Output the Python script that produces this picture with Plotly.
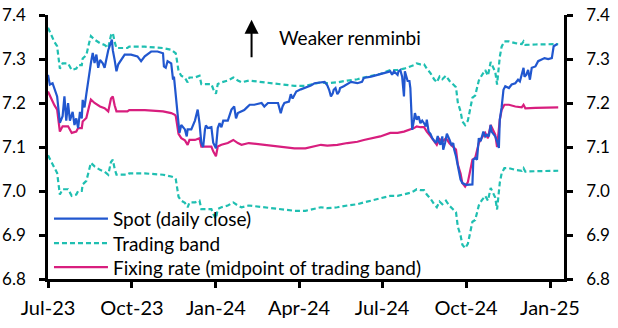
import pandas as pd
import plotly.graph_objects as go

# ---------------- data ----------------
start_date = "2023-07-01"   # day offsets below are counted from this date

spot_day = [0, 2, 5, 7, 10, 13, 16, 18, 20, 22, 24, 27, 29, 31, 33, 35, 37, 38, 40, 42,
            44, 47, 49, 51, 53, 55, 57, 60, 62, 66, 70, 71, 73, 75, 77, 80, 84, 91, 98, 102,
            106, 113, 120, 126, 127, 129, 131, 135, 137, 138, 140, 142, 144, 146, 150, 152, 153, 157, 161, 164,
            166, 168, 170, 172, 173, 175, 179, 181, 183, 184, 186, 188, 190, 192, 197, 201, 204, 206, 208, 212,
            215, 218, 221, 226, 234, 237, 241, 252, 254, 255, 257, 259, 264, 266, 268, 272, 277, 281, 288, 292,
            303, 306, 308, 310, 312, 313, 315, 317, 319, 320, 324, 332, 339, 344, 346, 354, 361, 368, 375, 377,
            379, 383, 384, 386, 388, 390, 391, 394, 396, 397, 399, 401, 402, 404, 406, 408, 410, 412, 414, 415,
            417, 419, 421, 425, 427, 428, 430, 432, 433, 435, 437, 440, 442, 444, 445, 447, 449, 452, 454, 458,
            465, 466, 468, 470, 472, 474, 476, 477, 479, 481, 483, 485, 486, 488, 490, 492, 494, 495, 497, 499,
            501, 505, 508, 512, 515, 517, 519, 521, 522, 524, 526, 528, 530, 534, 537, 541, 544, 548, 552, 554,
            558]
spot = [7.264, 7.242, 7.245, 7.234, 7.215, 7.155, 7.170, 7.215, 7.160, 7.200, 7.160, 7.180, 7.150, 7.165, 7.143, 7.180, 7.165, 7.207, 7.190, 7.220,
        7.253, 7.291, 7.314, 7.291, 7.310, 7.280, 7.298, 7.290, 7.280, 7.320, 7.344, 7.320, 7.298, 7.272, 7.288, 7.298, 7.310, 7.310, 7.306, 7.295,
        7.306, 7.317, 7.317, 7.313, 7.283, 7.280, 7.295, 7.290, 7.253, 7.260, 7.220, 7.185, 7.132, 7.150, 7.140, 7.124, 7.140, 7.140, 7.160, 7.185,
        7.154, 7.109, 7.100, 7.140, 7.149, 7.143, 7.145, 7.110, 7.101, 7.097, 7.143, 7.154, 7.145, 7.160, 7.160, 7.185, 7.192, 7.165, 7.177, 7.180,
        7.184, 7.190, 7.196, 7.196, 7.200, 7.192, 7.200, 7.200, 7.184, 7.177, 7.192, 7.200, 7.203, 7.220, 7.210, 7.226, 7.231, 7.234, 7.240, 7.245,
        7.248, 7.240, 7.230, 7.215, 7.222, 7.230, 7.234, 7.220, 7.226, 7.234, 7.238, 7.248, 7.245, 7.248, 7.257, 7.260, 7.264, 7.268, 7.272, 7.264,
        7.272, 7.264, 7.272, 7.275, 7.260, 7.215, 7.272, 7.250, 7.250, 7.234, 7.139, 7.162, 7.177, 7.162, 7.170, 7.154, 7.160, 7.154, 7.147, 7.162,
        7.135, 7.130, 7.120, 7.109, 7.125, 7.113, 7.105, 7.124, 7.094, 7.109, 7.130, 7.116, 7.105, 7.109, 7.094, 7.079, 7.056, 7.026, 7.018, 7.014,
        7.015, 7.071, 7.075, 7.071, 7.120, 7.113, 7.128, 7.135, 7.124, 7.128, 7.124, 7.150, 7.135, 7.128, 7.124, 7.113, 7.098, 7.162, 7.190, 7.230,
        7.238, 7.234, 7.242, 7.245, 7.253, 7.249, 7.268, 7.280, 7.260, 7.264, 7.275, 7.253, 7.280, 7.283, 7.295, 7.300, 7.302, 7.300, 7.302, 7.329,
        7.334]

fix_day = [0, 3, 7, 10, 13, 16, 22, 26, 31, 33, 37, 38, 42, 45, 47, 51, 57, 62, 66, 69,
           71, 73, 75, 87, 89, 106, 126, 135, 139, 140, 141, 143, 146, 150, 153, 155, 161, 166, 168, 179,
           181, 184, 186, 190, 197, 203, 208, 212, 220, 236, 248, 257, 270, 282, 292, 299, 306, 317, 328, 339,
           346, 354, 364, 375, 383, 390, 397, 401, 404, 408, 412, 415, 419, 423, 426, 429, 432, 436, 440, 444,
           447, 449, 452, 454, 457, 460, 463, 465, 468, 472, 475, 479, 482, 485, 490, 492, 495, 497, 500, 505,
           512, 519, 521, 523, 534, 545, 559]
fixing = [7.226, 7.212, 7.195, 7.185, 7.135, 7.147, 7.147, 7.132, 7.135, 7.143, 7.143, 7.158, 7.166, 7.192, 7.208, 7.200, 7.192, 7.188, 7.181, 7.210,
          7.215, 7.195, 7.181, 7.181, 7.184, 7.184, 7.181, 7.177, 7.173, 7.170, 7.157, 7.130, 7.120, 7.115, 7.105, 7.116, 7.116, 7.120, 7.101, 7.101,
          7.090, 7.079, 7.101, 7.105, 7.109, 7.116, 7.109, 7.105, 7.109, 7.105, 7.101, 7.099, 7.097, 7.097, 7.101, 7.105, 7.103, 7.105, 7.109, 7.112,
          7.116, 7.120, 7.124, 7.132, 7.132, 7.135, 7.139, 7.143, 7.147, 7.145, 7.145, 7.135, 7.125, 7.112, 7.105, 7.118, 7.112, 7.120, 7.108, 7.100,
          7.094, 7.060, 7.040, 7.018, 7.010, 7.020, 7.056, 7.071, 7.075, 7.109, 7.120, 7.132, 7.120, 7.150, 7.128, 7.100, 7.162, 7.184, 7.196, 7.196,
          7.192, 7.190, 7.196, 7.188, 7.189, 7.189, 7.190]
band_upper = [7.371, 7.356, 7.339, 7.329, 7.278, 7.290, 7.290, 7.275, 7.278, 7.286, 7.286, 7.301, 7.309, 7.336, 7.352, 7.344, 7.336, 7.332, 7.325, 7.354,
              7.359, 7.339, 7.325, 7.325, 7.328, 7.328, 7.325, 7.321, 7.316, 7.313, 7.300, 7.273, 7.262, 7.257, 7.247, 7.258, 7.258, 7.262, 7.243, 7.243,
              7.232, 7.221, 7.243, 7.247, 7.251, 7.258, 7.251, 7.247, 7.251, 7.247, 7.243, 7.241, 7.239, 7.239, 7.243, 7.247, 7.245, 7.247, 7.251, 7.254,
              7.258, 7.262, 7.266, 7.275, 7.275, 7.278, 7.282, 7.286, 7.290, 7.288, 7.288, 7.278, 7.268, 7.254, 7.247, 7.260, 7.254, 7.262, 7.250, 7.242,
              7.236, 7.201, 7.181, 7.158, 7.150, 7.160, 7.197, 7.212, 7.217, 7.251, 7.262, 7.275, 7.262, 7.293, 7.271, 7.242, 7.305, 7.328, 7.340, 7.340,
              7.336, 7.334, 7.340, 7.332, 7.333, 7.333, 7.334]
band_lower = [7.081, 7.068, 7.051, 7.041, 6.992, 7.004, 7.004, 6.989, 6.992, 7.000, 7.000, 7.015, 7.023, 7.048, 7.064, 7.056, 7.048, 7.044, 7.037, 7.066,
              7.071, 7.051, 7.037, 7.037, 7.040, 7.040, 7.037, 7.033, 7.030, 7.027, 7.014, 6.987, 6.978, 6.973, 6.963, 6.974, 6.974, 6.978, 6.959, 6.959,
              6.948, 6.937, 6.959, 6.963, 6.967, 6.974, 6.967, 6.963, 6.967, 6.963, 6.959, 6.957, 6.955, 6.955, 6.959, 6.963, 6.961, 6.963, 6.967, 6.970,
              6.974, 6.978, 6.982, 6.989, 6.989, 6.992, 6.996, 7.000, 7.004, 7.002, 7.002, 6.992, 6.983, 6.970, 6.963, 6.976, 6.970, 6.978, 6.966, 6.958,
              6.952, 6.919, 6.899, 6.878, 6.870, 6.880, 6.915, 6.930, 6.934, 6.967, 6.978, 6.989, 6.978, 7.007, 6.985, 6.958, 7.019, 7.040, 7.052, 7.052,
              7.048, 7.046, 7.052, 7.044, 7.045, 7.045, 7.046]

tick_dates = ["2023-07-01", "2023-10-01", "2024-01-01", "2024-04-01", "2024-07-01", "2024-10-01", "2025-01-01"]
tick_labels = ["Jul-23", "Oct-23", "Jan-24", "Apr-24", "Jul-24", "Oct-24", "Jan-25"]
y_ticks = [6.8, 6.9, 7.0, 7.1, 7.2, 7.3, 7.4]

legend_names = ["Spot (daily close)", "Trading band", "Fixing rate (midpoint of trading band)"]

# ---------------- styling ----------------
BLUE = "#2157CF"
TEAL = "#1FBFB1"
MAGENTA = "#D81E7E"
FONT = "Lato"
LW = 2.2

base = pd.Timestamp(start_date)
spot_x = base + pd.to_timedelta(spot_day, unit="D")
fix_x = base + pd.to_timedelta(fix_day, unit="D")

fig = go.Figure()
dash = "5px,3px"
fig.add_trace(go.Scatter(x=fix_x, y=band_upper, mode="lines",
                         line=dict(color=TEAL, width=LW, dash=dash), showlegend=False))
fig.add_trace(go.Scatter(x=fix_x, y=band_lower, mode="lines",
                         line=dict(color=TEAL, width=LW, dash=dash), showlegend=False))
fig.add_trace(go.Scatter(x=fix_x, y=fixing, mode="lines",
                         line=dict(color=MAGENTA, width=LW), showlegend=False))
fig.add_trace(go.Scatter(x=spot_x, y=spot, mode="lines",
                         line=dict(color=BLUE, width=LW), showlegend=False))
# invisible trace on the right axis so it is drawn
fig.add_trace(go.Scatter(x=fix_x[:1], y=fixing[:1], yaxis="y2", mode="lines",
                         line=dict(width=0), hoverinfo="skip", showlegend=False))

axis_common = dict(showline=True, linecolor="black", linewidth=2.5, ticks="outside",
                   ticklen=6, tickwidth=2.5, tickcolor="black", showgrid=False, zeroline=False,
                   automargin=False)

fig.update_layout(
    template="none",
    width=618, height=328,
    margin=dict(l=48, r=54, t=15, b=49, autoexpand=False),
    paper_bgcolor="white", plot_bgcolor="white",
    font=dict(family=FONT, color="black"),
    xaxis=dict(type="date", range=["2023-07-01", "2025-01-16 08:00"],
               tickvals=tick_dates, ticktext=tick_labels,
               tickfont=dict(size=20, family=FONT), ticklabelstandoff=3, **axis_common),
    yaxis=dict(range=[6.8, 7.4], tickvals=y_ticks, tickformat=".1f",
               tickfont=dict(size=17, family=FONT), ticklabelstandoff=10, **axis_common),
    yaxis2=dict(range=[6.8, 7.4], tickvals=y_ticks, tickformat=".1f", overlaying="y",
                side="right", anchor="x",
                tickfont=dict(size=17, family=FONT), ticklabelstandoff=10, **axis_common),
    showlegend=False,
)

# manual legend (longer line samples like the original)
leg_y = [0.229, 0.136, 0.045]
leg_styles = [dict(color=BLUE, width=LW), dict(color=TEAL, width=LW, dash=dash), dict(color=MAGENTA, width=LW)]
for name, yy, st in zip(legend_names, leg_y, leg_styles):
    fig.add_shape(type="line", xref="paper", yref="paper", x0=0.0116, x1=0.1162, y0=yy, y1=yy, line=st)
    fig.add_annotation(xref="paper", yref="paper", x=0.122, y=yy, text=name, showarrow=False,
                       xanchor="left", yanchor="middle", font=dict(size=19, family=FONT, color="black"))

# "Weaker renminbi" arrow
fig.add_annotation(xref="paper", yref="paper", x=0.3945, y=0.982, ax=0, ay=39, text="",
                   showarrow=True, arrowhead=2, arrowsize=1.4, arrowwidth=2, arrowcolor="black")
fig.add_annotation(xref="paper", yref="paper", x=0.444, y=0.914, text="Weaker renminbi",
                   showarrow=False, xanchor="left", yanchor="middle",
                   font=dict(size=19, family=FONT, color="black"))

fig.write_html("out.html")
